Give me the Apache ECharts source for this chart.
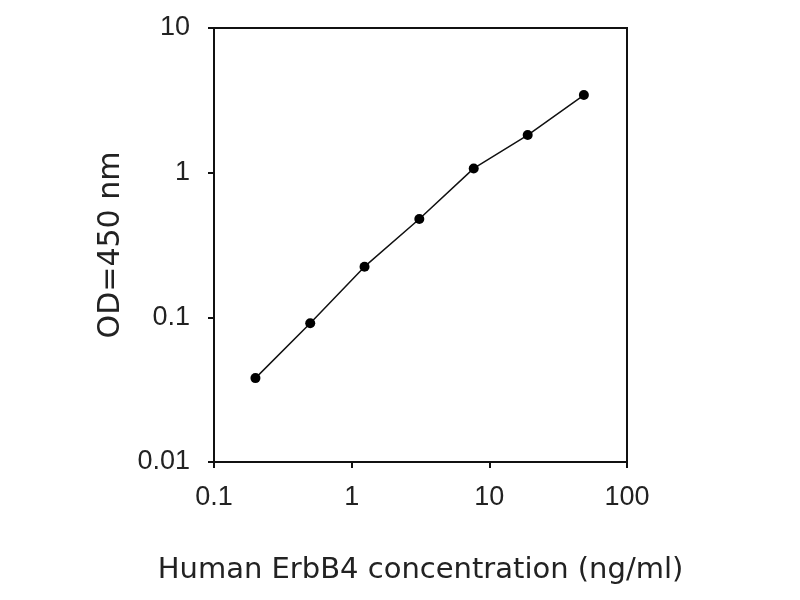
<!DOCTYPE html>
<html>
<head>
<meta charset="utf-8">
<script src="https://cdn.jsdelivr.net/npm/echarts@6/dist/echarts.min.js"></script>
<style>
html,body{margin:0;padding:0;background:#fff;}
#chart{width:800px;height:600px;}
</style>
</head>
<body>
<div id="chart"></div>
<script>
const concentration = [0.2, 0.5, 1.24, 3.1, 7.7, 19, 48.6];
const od450 = [0.038, 0.091, 0.224, 0.478, 1.07, 1.82, 3.44];
const xTitle = 'Human ErbB4 concentration (ng/ml)';
const yTitle = 'OD=450 nm';

const points = concentration.map((x, i) => [x, od450[i]]);

const chart = echarts.init(document.getElementById('chart'));
chart.setOption({
  backgroundColor: '#ffffff',
  animation: false,
  grid: {
    left: 214, right: 173, top: 28, bottom: 138,
    show: true, borderColor: '#111', borderWidth: 2, backgroundColor: 'transparent'
  },
  xAxis: {
    type: 'log', logBase: 10, min: 0.1, max: 100,
    name: xTitle, nameLocation: 'middle', nameGap: 94,
    nameTextStyle: { fontFamily: 'DejaVu Sans', fontSize: 29, color: '#222' },
    axisLine: { show: true, lineStyle: { color: '#111', width: 2 } },
    axisTick: { show: true, inside: false, length: 6, lineStyle: { color: '#111', width: 2 } },
    minorTick: { show: false },
    splitLine: { show: false },
    axisLabel: { fontFamily: '"Liberation Sans", Arial, sans-serif', fontSize: 27, color: '#222', margin: 22,
      formatter: v => String(+v.toPrecision(3)) }
  },
  yAxis: {
    type: 'log', logBase: 10, min: 0.01, max: 10,
    name: yTitle, nameLocation: 'middle', nameGap: 88, nameRotate: 90,
    nameTextStyle: { fontFamily: 'DejaVu Sans', fontSize: 30, color: '#222' },
    axisLine: { show: true, lineStyle: { color: '#111', width: 2 } },
    axisTick: { show: true, inside: false, length: 6, lineStyle: { color: '#111', width: 2 } },
    minorTick: { show: false },
    splitLine: { show: false },
    axisLabel: { fontFamily: '"Liberation Sans", Arial, sans-serif', fontSize: 27, color: '#222', margin: 24,
      formatter: v => String(+v.toPrecision(3)) }
  },
  series: [{
    type: 'line',
    data: points,
    symbol: 'circle',
    symbolSize: 10,
    itemStyle: { color: '#000' },
    lineStyle: { color: '#111', width: 1.5 },
    smooth: false
  }]
});
</script>
</body>
</html>
